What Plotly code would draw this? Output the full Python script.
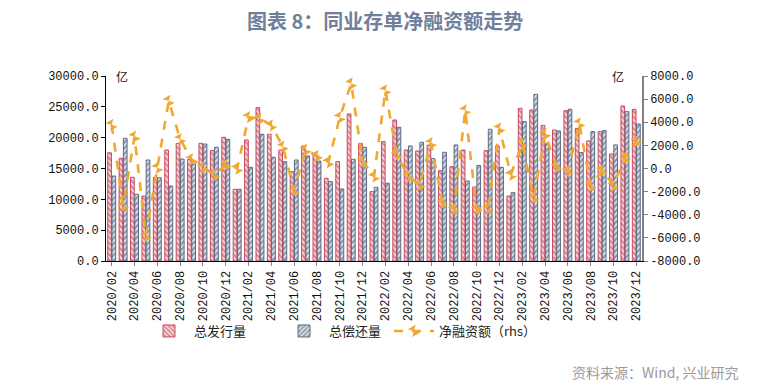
import plotly.graph_objects as go

months = ["2020/02","2020/03","2020/04","2020/05","2020/06","2020/07","2020/08","2020/09","2020/10","2020/11","2020/12",
          "2021/01","2021/02","2021/03","2021/04","2021/05","2021/06","2021/07","2021/08","2021/09","2021/10","2021/11","2021/12",
          "2022/01","2022/02","2022/03","2022/04","2022/05","2022/06","2022/07","2022/08","2022/09","2022/10","2022/11","2022/12",
          "2023/01","2023/02","2023/03","2023/04","2023/05","2023/06","2023/07","2023/08","2023/09","2023/10","2023/11","2023/12"]

issuance = [17550,16650,13570,10540,13570,18000,19080,16500,19080,17900,20060,
            11630,19630,24870,20550,18000,14490,18650,17300,13410,16110,23840,19080,
            11250,19360,22870,18000,17840,18800,14650,15300,18000,12000,17900,18650,
            10540,24760,24490,22000,21250,24380,21500,19470,20980,17360,25140,24600]

repayment = [13780,19890,10810,16380,13510,12160,16540,15700,18970,18440,19740,
             11630,15190,20550,16820,16100,16380,17030,16200,12870,11680,16490,18440,
             11950,12600,21680,18650,19250,16600,17630,18820,12980,15500,21360,15190,
             11080,22600,27030,19000,21090,24600,17600,20980,21140,18820,24220,22220]

net_financing = [3770,-3240,2760,-5840,60,5840,2540,800,110,-540,320,
                 0,4440,4320,3730,1900,-1890,1620,1100,540,4430,7350,640,
                 -700,6760,1190,-650,-1410,2200,-2980,-3520,5020,-3500,-3460,3460,
                 -540,2160,-2540,3000,160,-220,3900,-1510,-160,-1460,920,2380]

left_ticks = [0, 5000, 10000, 15000, 20000, 25000, 30000]
right_ticks = [-8000, -6000, -4000, -2000, 0, 2000, 4000, 6000, 8000]

x = list(range(len(months)))
tick_idx = list(range(0, len(months), 2))

RED = "#B8283C"
NAVY = "#34445E"
ORANGE = "#F0A830"
FONT_CN = "Noto Sans CJK SC"
FONT_NUM = "Liberation Mono"

W, H = 770, 392
ML, MR, MT, MB = 106, 128, 76, 131
plot_w = W - ML - MR
plot_h = H - MT - MB

fig = go.Figure()
fig.add_trace(go.Bar(
    x=x, y=issuance, name="总发行量", legend="legend",
    marker=dict(color="#F3C2CA", line=dict(color="#C84A5C", width=1),
                pattern=dict(shape="\\", fgcolor=RED, bgcolor="#F8E1E5", size=4, solidity=0.55)),
))
fig.add_trace(go.Bar(
    x=x, y=repayment, name="总偿还量", legend="legend2",
    marker=dict(color="#CBD3E0", line=dict(color="#5A6A85", width=1),
                pattern=dict(shape="/", fgcolor=NAVY, bgcolor="#E6EAF1", size=4, solidity=0.55)),
))
fig.add_trace(go.Scatter(
    x=x, y=net_financing, name="净融资额（rhs）", yaxis="y2", mode="lines+markers", legend="legend3",
    line=dict(color=ORANGE, width=2.6, dash="dash"),
    marker=dict(symbol="bowtie", size=9, color=ORANGE, angle=60),
))

def leg(px):
    return dict(orientation="h", x=(px - ML) / plot_w, y=(261 - 316) / plot_h,
                xanchor="left", yanchor="top",
                font=dict(family=FONT_CN, size=13, color="#222222"),
                itemwidth=40, bgcolor="rgba(0,0,0,0)")

fig.update_layout(
    width=W, height=H,
    margin=dict(l=ML, r=MR, t=MT, b=MB, autoexpand=False),
    paper_bgcolor="white", plot_bgcolor="white",
    barmode="group", bargap=0.26, bargroupgap=0.12,
    showlegend=True,
    legend=leg(144), legend2=leg(279), legend3=leg(389),
    font=dict(family=FONT_CN, color="#222222"),
    xaxis=dict(range=[-0.5, len(months) - 0.5], tickmode="array", tickvals=tick_idx,
               ticktext=[months[i] for i in tick_idx], tickangle=-90, automargin=False,
               tickfont=dict(family=FONT_NUM, size=12, color="#111111"),
               showline=True, linecolor="#000000", linewidth=1, ticks="outside",
               ticklen=4, tickcolor="#888888", showgrid=False, zeroline=False),
    yaxis=dict(range=[0, 30000], tickmode="array", tickvals=left_ticks, automargin=False,
               ticktext=[f"{v:.1f}" for v in left_ticks],
               tickfont=dict(family=FONT_NUM, size=12, color="#111111"),
               showline=True, linecolor="#000000", linewidth=1, ticks="outside",
               ticklen=4, tickcolor="#000000", showgrid=False, zeroline=False),
    yaxis2=dict(range=[-8000, 8000], overlaying="y", side="right", tickmode="array",
                automargin=False,
                tickvals=right_ticks, ticktext=[f"{v:.1f}" for v in right_ticks],
                tickfont=dict(family=FONT_NUM, size=12, color="#111111"),
                showline=True, linecolor="#808080", linewidth=1.5, ticks="outside",
                ticklen=4, tickcolor="#808080", showgrid=False, zeroline=False),
    annotations=[
        dict(text="<b>图表 8：同业存单净融资额走势</b>", xref="paper", yref="paper",
             x=(385 - ML) / plot_w, y=1 + (MT - 20) / plot_h, xanchor="center", yanchor="middle",
             showarrow=False, font=dict(family=FONT_CN, size=20, color="#6F7F9C")),
        dict(text="亿", xref="paper", yref="paper", x=(122 - ML) / plot_w, y=1 + (MT - 77) / plot_h,
             xanchor="center", yanchor="middle",
             showarrow=False, font=dict(family=FONT_CN, size=12, color="#111111")),
        dict(text="亿", xref="paper", yref="paper", x=(618 - ML) / plot_w, y=1 + (MT - 77) / plot_h,
             xanchor="center", yanchor="middle",
             showarrow=False, font=dict(family=FONT_CN, size=12, color="#111111")),
        dict(text="资料来源：Wind, 兴业研究", xref="paper", yref="paper",
             x=(740 - ML) / plot_w, y=(261 - 372) / plot_h,
             xanchor="right", yanchor="middle", showarrow=False,
             font=dict(family=FONT_CN, size=14, color="#9A9A9A")),
    ],
)

fig.write_html("out.html", config={"displayModeBar": False},
               post_script="document.body.style.margin='0';document.body.style.padding='0';")
